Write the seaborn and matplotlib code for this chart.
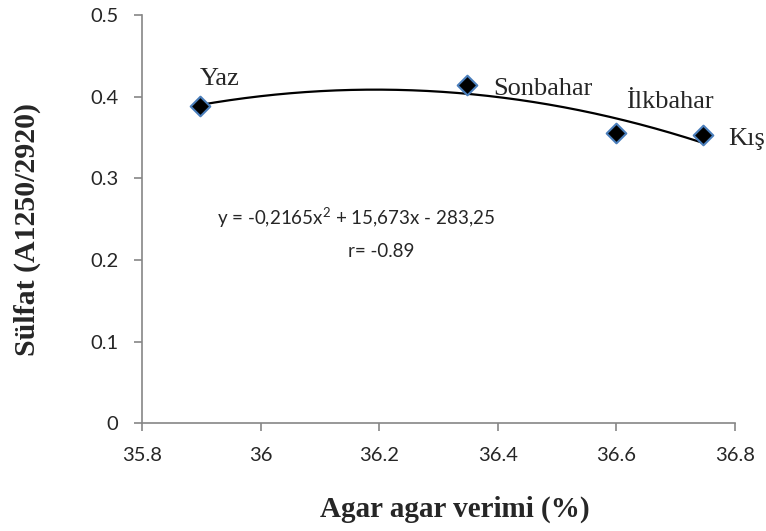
import numpy as np
import pandas as pd
import matplotlib
matplotlib.use("Agg")
import matplotlib.pyplot as plt
import seaborn as sns

# Seasonal agar yield (%) vs. sulfate index
seasons = ["Yaz", "Sonbahar", "İlkbahar", "Kış"]
agar_yield = [35.897, 36.348, 36.600, 36.746]
sulfate = [0.388, 0.414, 0.355, 0.353]
x_ticks = [35.8, 36.0, 36.2, 36.4, 36.6, 36.8]
y_ticks = [0.0, 0.1, 0.2, 0.3, 0.4, 0.5]
x_tick_labels = ["35.8", "36", "36.2", "36.4", "36.6", "36.8"]
y_tick_labels = ["0", "0.1", "0.2", "0.3", "0.4", "0.5"]
equation_text = "y = -0,2165x$^2$ + 15,673x - 283,25"
r_text = "r= -0.89"

df = pd.DataFrame({"season": seasons, "yield": agar_yield, "sulfate": sulfate})

sns.set_style("white")
plt.rcParams["font.family"] = ["Lato", "DejaVu Sans"]
plt.rcParams["mathtext.fontset"] = "custom"
plt.rcParams["mathtext.rm"] = "Lato"

W, H = 766, 531
fig = plt.figure(figsize=(W / 100, H / 100), dpi=100)
ax = fig.add_axes([142 / W, 1 - 423.3 / H, (735 - 142) / W, (423.3 - 15) / H])
serif = ["Liberation Serif", "DejaVu Serif"]

# second-order polynomial trendline over the data range
coef = np.polyfit(df["yield"], df["sulfate"], 2)
xs = np.linspace(df["yield"].min(), df["yield"].max(), 200)
trend = pd.DataFrame({"x": xs, "y": np.polyval(coef, xs)})
sns.lineplot(data=trend, x="x", y="y", ax=ax, color="black", linewidth=1.6, zorder=2)

sns.scatterplot(data=df, x="yield", y="sulfate", ax=ax, marker="D", s=100,
                color="black", edgecolor="#4a7ebb", linewidth=1.5, zorder=3)

# season labels (offsets in points, text baseline)
label_offsets = {"Yaz": (0.5, 15.6), "Sonbahar": (18.7, -6.7),
                 "İlkbahar": (6.7, 18.4), "Kış": (18.2, -7.2)}
for s, xv, yv in zip(seasons, agar_yield, sulfate):
    dx, dy = label_offsets[s]
    ax.annotate(s, (xv, yv), xytext=(dx, dy), textcoords="offset points",
                ha="left", va="baseline", fontsize=19, family=serif)

fig.text(216.7 / W, 1 - 225 / H, equation_text, ha="left", va="baseline", fontsize=13.5)
fig.text(348 / W, 1 - 256.7 / H, r_text, ha="left", va="baseline", fontsize=13.5)

ax.set_xlim(35.8, 36.8)
ax.set_ylim(0, 0.5)
ax.set_xticks(x_ticks)
ax.set_xticklabels(x_tick_labels)
ax.set_yticks(y_ticks)
ax.set_yticklabels(y_tick_labels)
ax.tick_params(axis="both", which="major", labelsize=14.5, length=6, width=1.2,
               color="#868686", direction="out", bottom=True, left=True, pad=11)

for side in ["top", "right"]:
    ax.spines[side].set_visible(False)
for side in ["left", "bottom"]:
    ax.spines[side].set_color("#868686")
    ax.spines[side].set_linewidth(1.2)

ax.set_xlabel("")
ax.set_ylabel("")
fig.text(455 / W, 1 - 517 / H, "Agar agar verimi (%)", ha="center", va="baseline",
         fontsize=21, fontweight="bold", family=serif)
fig.text(27 / W, 1 - 229 / H, "Sülfat (A1250/2920)", ha="center", va="center",
         rotation=90, fontsize=21.5, fontweight="bold", family=serif)

fig.savefig("out.png", dpi=100)
